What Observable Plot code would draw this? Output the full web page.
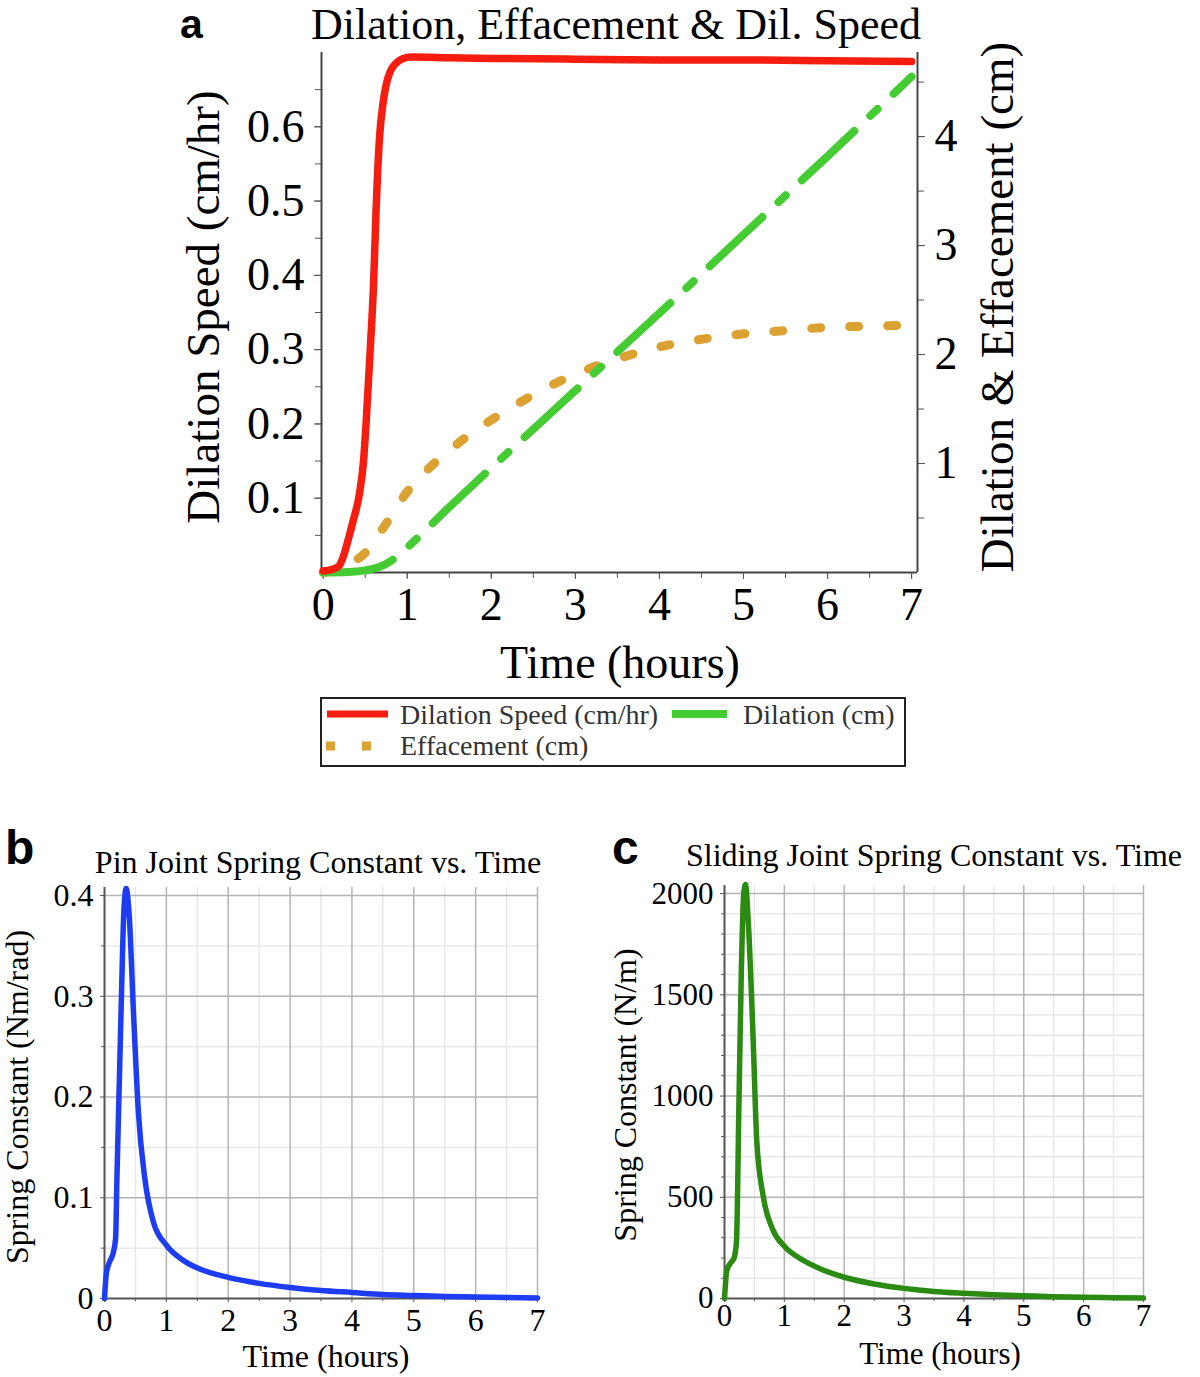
<!DOCTYPE html>
<html><head><meta charset="utf-8">
<script src="https://cdn.jsdelivr.net/npm/d3@7"></script>
<script src="https://cdn.jsdelivr.net/npm/@observablehq/plot@0.6"></script>
<style>
body{margin:0;background:#fff;}
#wrap{position:relative;width:1200px;height:1377px;overflow:hidden;}
#wrap > svg{position:absolute;}
</style></head><body><div id="wrap"></div>
<script>
// ---------- Panel a data ----------
const speedTime = [0, 0.1, 0.19, 0.25, 0.3, 0.36, 0.43, 0.48, 0.51, 0.56, 0.6, 0.63, 0.67, 0.71, 0.75, 0.8, 0.87, 0.95, 1.05, 1.5, 2, 3, 4, 5, 6, 7];
const speedValues = [0.002, 0.004, 0.009, 0.025, 0.045, 0.071, 0.105, 0.15, 0.2, 0.3, 0.39, 0.49, 0.585, 0.63, 0.657, 0.675, 0.686, 0.692, 0.694, 0.693, 0.692, 0.691, 0.69, 0.69, 0.689, 0.688];
const dilationTime = [0, 0.3, 0.5, 0.7, 0.85, 1, 1.5, 2, 3, 4, 5, 6, 7];
const dilationValues = [0, 0.005, 0.02, 0.06, 0.13, 0.23, 0.6, 0.96, 1.67, 2.38, 3.1, 3.82, 4.55];
const effacementTime = [0, 0.25, 0.5, 0.75, 1, 1.25, 1.5, 1.75, 2, 2.5, 3, 3.5, 4, 4.5, 5, 5.5, 6, 6.5, 7];
const effacementValues = [0, 0.06, 0.18, 0.45, 0.74, 0.95, 1.12, 1.27, 1.4, 1.63, 1.82, 1.96, 2.07, 2.14, 2.19, 2.22, 2.25, 2.26, 2.27];
const speedTicks = [0.1, 0.2, 0.3, 0.4, 0.5, 0.6];
const cmTicks = [1, 2, 3, 4];
const hourTicks = [0, 1, 2, 3, 4, 5, 6, 7];
const seriesNames = ["Dilation Speed (cm/hr)", "Dilation (cm)", "Effacement (cm)"];

// ---------- Panel b data ----------
const pinTime = [0, 0.03, 0.08, 0.14, 0.18, 0.2, 0.24, 0.28, 0.31, 0.35, 0.4, 0.47, 0.55, 0.65, 0.79, 1.0, 1.27, 1.64, 2, 2.5, 3, 3.5, 4, 4.5, 5, 5.5, 6, 6.5, 7];
const pinValues = [0, 0.025, 0.036, 0.045, 0.06, 0.117, 0.216, 0.315, 0.38, 0.407, 0.38, 0.282, 0.183, 0.12, 0.076, 0.053, 0.038, 0.027, 0.021, 0.015, 0.011, 0.008, 0.006, 0.004, 0.003, 0.002, 0.0015, 0.001, 0.0005];
const pinTicks = [0, 0.1, 0.2, 0.3, 0.4];

// ---------- Panel c data ----------
const slideTime = [0, 0.04, 0.1, 0.16, 0.2, 0.24, 0.28, 0.32, 0.35, 0.4, 0.48, 0.54, 0.65, 0.8, 1.0, 1.25, 1.5, 2, 2.5, 3, 3.5, 4, 4.5, 5, 5.5, 6, 6.5, 7];
const slideValues = [0, 140, 175, 200, 280, 940, 1600, 1995, 2045, 1846, 1269, 774, 500, 345, 258, 200, 160, 105, 72, 50, 35, 26, 19, 14, 9, 6, 4, 2];
const slideTicks = [0, 500, 1000, 1500, 2000];

const SERIF = "'Liberation Serif','Times New Roman',serif";
const SANS = "'Liberation Sans',Arial,sans-serif";
const wrap = document.getElementById("wrap");

// cm values share the speed axis via a fixed ratio (right axis)
const K = 0.1467;
const zip = (xs, ys) => xs.map((x, i) => ({x, y: ys[i]}));
const halfSteps = (a, b, s) => d3.range(Math.round((b - a) / s) + 1).map(i => +(a + i * s).toFixed(4));

const plotA = Plot.plot({
  width: 1200, height: 700,
  marginLeft: 321, marginRight: 283, marginTop: 52, marginBottom: 128,
  x: {domain: [-0.02, 7.07]},
  y: {domain: [0, 0.7]},
  style: {fontFamily: SERIF, fontSize: "46px", color: "#000", background: "transparent", overflow: "visible"},
  marks: [
    Plot.axisY(halfSteps(0.05, 0.65, 0.05), {tickSize: 6, tickFormat: () => "", stroke: "#555", label: null}),
    Plot.axisY(speedTicks, {tickSize: 7, tickPadding: 10, stroke: "#555", label: null, tickFormat: d => d.toFixed(1)}),
    Plot.axisX(halfSteps(0, 7, 0.5), {tickSize: 6, tickFormat: () => "", stroke: "#555", label: null}),
    Plot.axisX(hourTicks, {tickSize: 7, tickPadding: 8, stroke: "#555", label: null, tickFormat: d => String(d)}),
    Plot.axisY(halfSteps(0.5, 4.5, 0.5).map(c => c * K), {anchor: "right", tickSize: 6, tickFormat: () => "", stroke: "#555", label: null}),
    Plot.axisY(cmTicks.map(c => c * K), {anchor: "right", tickSize: 7, tickPadding: 10, stroke: "#555", label: null, tickFormat: d => String(Math.round(d / K))}),
    Plot.ruleX([-0.02, 7.07], {stroke: "#444", strokeWidth: 2}),
    Plot.ruleY([0], {stroke: "#444", strokeWidth: 2}),
    Plot.line(zip(effacementTime, effacementValues), {x: "x", y: d => d.y * K, stroke: "#dca133", strokeWidth: 9, strokeDasharray: "9,29", curve: "monotone-x"}),
    Plot.line(zip(dilationTime, dilationValues), {x: "x", y: d => d.y * K, stroke: "#45cc33", strokeWidth: 8, strokeDasharray: "72,22,10,22", curve: "monotone-x"}),
    Plot.line(zip(speedTime, speedValues), {x: "x", y: "y", stroke: "#f41d0f", strokeWidth: 7.5, curve: "monotone-x"})
  ]
});
plotA.style.left = "0px"; plotA.style.top = "0px";
wrap.appendChild(plotA);

function springPlot(time, values, ticks, minorStep, yMax, color, opts) {
  const majorStep = ticks[1] - ticks[0];
  const minorY = halfSteps(minorStep, ticks[ticks.length - 1], minorStep).filter(v => Math.abs(v / majorStep - Math.round(v / majorStep)) > 1e-6);
  return Plot.plot({
    width: opts.width, height: 500,
    marginLeft: opts.ml, marginRight: opts.mr, marginTop: opts.mt, marginBottom: 72,
    x: {domain: [0, 7]},
    y: {domain: [0, yMax]},
    style: {fontFamily: SERIF, fontSize: opts.fs + "px", color: "#000", background: "transparent", overflow: "visible"},
    marks: [
      Plot.ruleX(halfSteps(0.5, 6.5, 1), {stroke: "#e8e8e8", strokeWidth: 1.5}),
      Plot.ruleY(minorY, {stroke: "#e8e8e8", strokeWidth: 1.5}),
      Plot.ruleX(hourTicks.slice(1), {stroke: "#b4b4b4", strokeWidth: 1.5}),
      Plot.ruleY(ticks.slice(1), {stroke: "#b4b4b4", strokeWidth: 1.5}),
      Plot.axisY(minorY, {tickSize: 3, tickFormat: () => "", stroke: "#555", label: null}),
      Plot.axisY(ticks, {tickSize: 4, tickPadding: 7, stroke: "#555", label: null, tickFormat: d => String(d)}),
      Plot.axisX(halfSteps(0.5, 6.5, 1), {tickSize: 3, tickFormat: () => "", stroke: "#555", label: null}),
      Plot.axisX(hourTicks, {tickSize: 4, tickPadding: opts.xpad, stroke: "#555", label: null, tickFormat: d => String(d)}),
      Plot.ruleX([0], {stroke: "#555", strokeWidth: 2}),
      Plot.ruleY([0], {stroke: "#555", strokeWidth: 2}),
      Plot.line(zip(time, values), {x: "x", y: "y", stroke: color, strokeWidth: 5.5, curve: "monotone-x"})
    ]
  });
}
const plotB = springPlot(pinTime, pinValues, pinTicks, 0.05, 0.408, "#1e3cf2", {width: 560, ml: 104, mr: 23, mt: 17, xpad: 6, fs: 32});
plotB.style.left = "0px"; plotB.style.top = "870px";
wrap.appendChild(plotB);
const plotC = springPlot(slideTime, slideValues, slideTicks, 100, 2040, "#2b8a12", {width: 600, ml: 124, mr: 57, mt: 15, xpad: 1, fs: 31});
plotC.style.left = "600px"; plotC.style.top = "870px";
wrap.appendChild(plotC);

// ---------- Text overlay & legend ----------
const ns = "http://www.w3.org/2000/svg";
const ov = document.createElementNS(ns, "svg");
ov.setAttribute("width", 1200); ov.setAttribute("height", 1377);
ov.style.left = "0px"; ov.style.top = "0px";
wrap.appendChild(ov);
function txt(s, x, y, o = {}) {
  const t = document.createElementNS(ns, "text");
  t.textContent = s;
  t.setAttribute("x", 0); t.setAttribute("y", 0);
  t.setAttribute("transform", `translate(${x},${y})` + (o.rot ? ` rotate(${o.rot})` : ""));
  t.setAttribute("font-family", o.family || SERIF);
  t.setAttribute("font-size", o.size || 32);
  t.setAttribute("text-anchor", o.anchor || "middle");
  if (o.weight) t.setAttribute("font-weight", o.weight);
  if (o.baseline) t.setAttribute("dominant-baseline", o.baseline);
  t.setAttribute("fill", o.fill || "#000");
  ov.appendChild(t);
}
function el(tag, attrs) {
  const e = document.createElementNS(ns, tag);
  for (const k in attrs) e.setAttribute(k, attrs[k]);
  ov.appendChild(e);
}
// panel a
txt("a", 180, 38, {family: SANS, size: 41, weight: "bold", anchor: "start"});
txt("Dilation, Effacement & Dil. Speed", 616, 39, {size: 44});
txt("Dilation Speed (cm/hr)", 203, 307, {size: 47, rot: -90, baseline: "central"});
txt("Dilation & Effacement (cm)", 997, 307, {size: 47, rot: -90, baseline: "central"});
txt("Time (hours)", 620, 678, {size: 46});
// legend
el("rect", {x: 321, y: 698, width: 584, height: 68, fill: "none", stroke: "#222", "stroke-width": 2});
el("line", {x1: 327, x2: 388, y1: 714, y2: 714, stroke: "#f41d0f", "stroke-width": 7});
txt(seriesNames[0], 400, 724, {size: 28, anchor: "start", fill: "#333"});
el("line", {x1: 672, x2: 727, y1: 714, y2: 714, stroke: "#45cc33", "stroke-width": 8});
txt(seriesNames[1], 743, 724, {size: 28, anchor: "start", fill: "#333"});
el("line", {x1: 326, x2: 372, y1: 746, y2: 746, stroke: "#dca133", "stroke-width": 9, "stroke-dasharray": "9,27"});
txt(seriesNames[2], 400, 755, {size: 28, anchor: "start", fill: "#333"});
// panel b
txt("b", 5, 864, {family: SANS, size: 48, weight: "bold", anchor: "start"});
txt("Pin Joint Spring Constant vs. Time", 318, 873, {size: 32});
txt("Spring Constant (Nm/rad)", 17, 1097, {size: 32, rot: -90, baseline: "central"});
txt("Time (hours)", 326, 1367, {size: 32});
// panel c
txt("c", 612, 864, {family: SANS, size: 48, weight: "bold", anchor: "start"});
txt("Sliding Joint Spring Constant vs. Time", 934, 866, {size: 32});
txt("Spring Constant (N/m)", 625, 1095, {size: 32, rot: -90, baseline: "central"});
txt("Time (hours)", 940, 1364, {size: 31});
</script></body></html>
